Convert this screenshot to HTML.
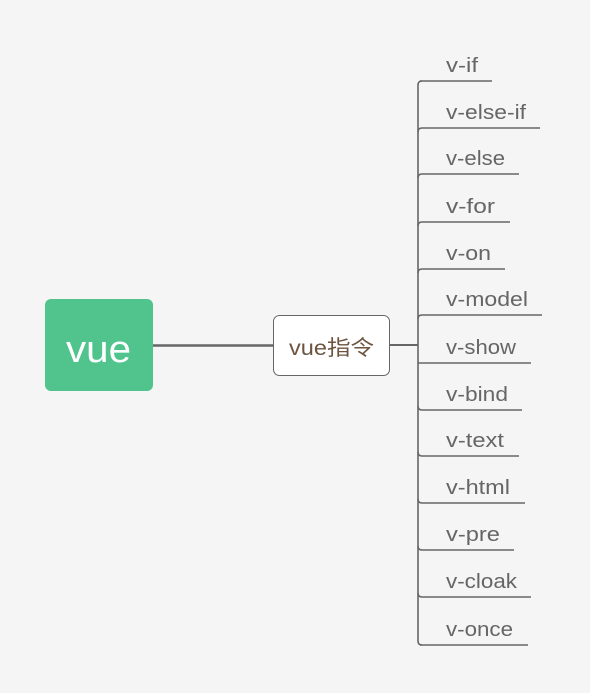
<!DOCTYPE html>
<html><head><meta charset="utf-8"><style>
html,body{margin:0;padding:0;background:#f5f5f5;}
svg{display:block;}
text{font-family:"Liberation Sans","DejaVu Sans","Noto Sans CJK SC",sans-serif;}
</style></head><body>
<svg width="590" height="693" viewBox="0 0 590 693" xmlns="http://www.w3.org/2000/svg">
<rect width="590" height="693" fill="#f5f5f5"/>
<line x1="153" y1="345.5" x2="273" y2="345.5" stroke="#666" stroke-width="2.5"/>
<line x1="389" y1="345" x2="418" y2="345" stroke="#666" stroke-width="2"/>
<rect x="45" y="299" width="108" height="92" rx="6" fill="#50c48c"/>
<text x="66" y="362" font-size="38" fill="#fff" textLength="65" lengthAdjust="spacingAndGlyphs">vue</text>
<rect x="273.5" y="315.5" width="116" height="60" rx="6" fill="#fff" stroke="#666" stroke-width="1"/>
<text x="289" y="355" font-size="21" fill="#6b5440" textLength="85" lengthAdjust="spacingAndGlyphs">vue指令</text>
<g fill="none" stroke="#666" stroke-width="1.6">
<path d="M418 641 V85 Q418 81 422 81"/>
<path d="M418 641 Q418 645 422 645"/>
</g>
<g stroke="#666" stroke-width="1.6">
<line x1="420" y1="81" x2="492" y2="81"/>
<path d="M418 132 Q418 128 422 128 H540" fill="none"/>
<path d="M418 178 Q418 174 422 174 H519" fill="none"/>
<path d="M418 226 Q418 222 422 222 H510" fill="none"/>
<path d="M418 273 Q418 269 422 269 H505" fill="none"/>
<path d="M418 319 Q418 315 422 315 H542" fill="none"/>
<line x1="418" y1="363" x2="531" y2="363"/>
<path d="M418 406 Q418 410 422 410 H522" fill="none"/>
<path d="M418 452 Q418 456 422 456 H519" fill="none"/>
<path d="M418 499 Q418 503 422 503 H525" fill="none"/>
<path d="M418 546 Q418 550 422 550 H514" fill="none"/>
<path d="M418 593 Q418 597 422 597 H531" fill="none"/>
<line x1="420" y1="645" x2="528" y2="645"/>
</g>
<g font-size="20" fill="#666" lengthAdjust="spacingAndGlyphs">
<text x="446" y="72" textLength="32" lengthAdjust="spacingAndGlyphs">v-if</text>
<text x="446" y="119" textLength="80" lengthAdjust="spacingAndGlyphs">v-else-if</text>
<text x="446" y="165" textLength="59" lengthAdjust="spacingAndGlyphs">v-else</text>
<text x="446" y="213" textLength="49" lengthAdjust="spacingAndGlyphs">v-for</text>
<text x="446" y="260" textLength="45" lengthAdjust="spacingAndGlyphs">v-on</text>
<text x="446" y="306" textLength="82" lengthAdjust="spacingAndGlyphs">v-model</text>
<text x="446" y="354" textLength="70" lengthAdjust="spacingAndGlyphs">v-show</text>
<text x="446" y="401" textLength="62" lengthAdjust="spacingAndGlyphs">v-bind</text>
<text x="446" y="447" textLength="58" lengthAdjust="spacingAndGlyphs">v-text</text>
<text x="446" y="494" textLength="64" lengthAdjust="spacingAndGlyphs">v-html</text>
<text x="446" y="541" textLength="54" lengthAdjust="spacingAndGlyphs">v-pre</text>
<text x="446" y="588" textLength="71" lengthAdjust="spacingAndGlyphs">v-cloak</text>
<text x="446" y="636" textLength="67" lengthAdjust="spacingAndGlyphs">v-once</text>
</g>
</svg>
</body></html>
